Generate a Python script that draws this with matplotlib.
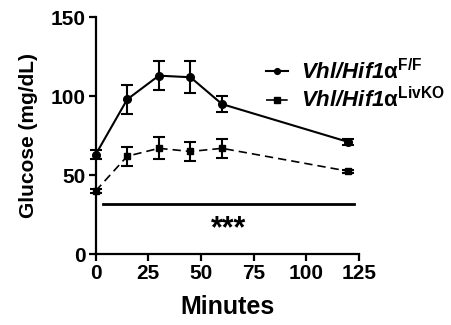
import matplotlib
matplotlib.use("Agg")
import matplotlib.pyplot as plt

### data
minutes = [0, 15, 30, 45, 60, 120]
ctrl_mean = [63, 98, 113, 112, 95, 71]
ctrl_err = [3, 9, 9, 10, 5, 2]
ko_mean = [40, 62, 67, 65, 67, 52.5]
ko_err = [1, 6, 7, 6, 6, 1]
ctrl_label = r"Vhl/Hif1$\mathsf{\alpha}^{\mathrm{F/F}}$"
ko_label = r"Vhl/Hif1$\mathsf{\alpha}^{\mathrm{LivKO}}$"
sig_span = [3.5, 122.5]
sig_y = 32
sig_text = "***"

plt.rcParams["font.family"] = "Liberation Sans"
plt.rcParams["font.weight"] = "bold"
plt.rcParams["mathtext.fontset"] = "custom"
plt.rcParams["mathtext.it"] = "Liberation Sans:italic:bold"
plt.rcParams["mathtext.rm"] = "Liberation Sans:bold"
plt.rcParams["mathtext.sf"] = "Liberation Sans"

fig = plt.figure(figsize=(4.51, 3.25), dpi=100)
ax = fig.add_axes([0.212, 0.218, 0.584, 0.729])

# error bars first, then the lines that go in the legend
ax.errorbar(minutes, ctrl_mean, yerr=ctrl_err, fmt="none", ecolor="black",
            capsize=4.5, capthick=1.5, elinewidth=1.5, clip_on=False)
ax.errorbar(minutes, ko_mean, yerr=ko_err, fmt="none", ecolor="black",
            capsize=4.5, capthick=1.5, elinewidth=1.5, clip_on=False)
ax.plot(minutes, ctrl_mean, color="black", lw=1.5, marker="o", ms=5.5,
        label=ctrl_label, clip_on=False)
ax.plot(minutes, ko_mean, color="black", lw=1.2, ls=(0, (5, 3)),
        marker="s", ms=5, label=ko_label, clip_on=False)

ax.plot(sig_span, [sig_y, sig_y], color="black", lw=2)
ax.text(sum(sig_span) / 2, 16, sig_text, ha="center", va="center",
        fontsize=22, fontweight="bold")

ax.set_xlim(0, 125)
ax.set_ylim(0, 150)
ax.set_xticks([0, 25, 50, 75, 100, 125])
ax.set_yticks([0, 50, 100, 150])
for s in ["top", "right"]:
    ax.spines[s].set_visible(False)
for s in ["left", "bottom"]:
    ax.spines[s].set_linewidth(1.6)
ax.tick_params(width=1.6, length=5, labelsize=15, pad=2)
for lbl in ax.get_xticklabels() + ax.get_yticklabels():
    lbl.set_fontweight("bold")

ax.set_xlabel("Minutes", fontsize=18, fontweight="bold", labelpad=9)
ax.set_ylabel("Glucose (mg/dL)", fontsize=15, fontweight="bold", labelpad=9)

leg = ax.legend(loc="upper left", bbox_to_anchor=(0.57, 0.91), frameon=False,
                fontsize=16, handlelength=1.0, handletextpad=0.6,
                labelspacing=0.15, markerscale=0.75)
for t in leg.get_texts():
    t.set_fontstyle("italic")
    t.set_fontweight("bold")

fig.savefig("out.png", dpi=100)
